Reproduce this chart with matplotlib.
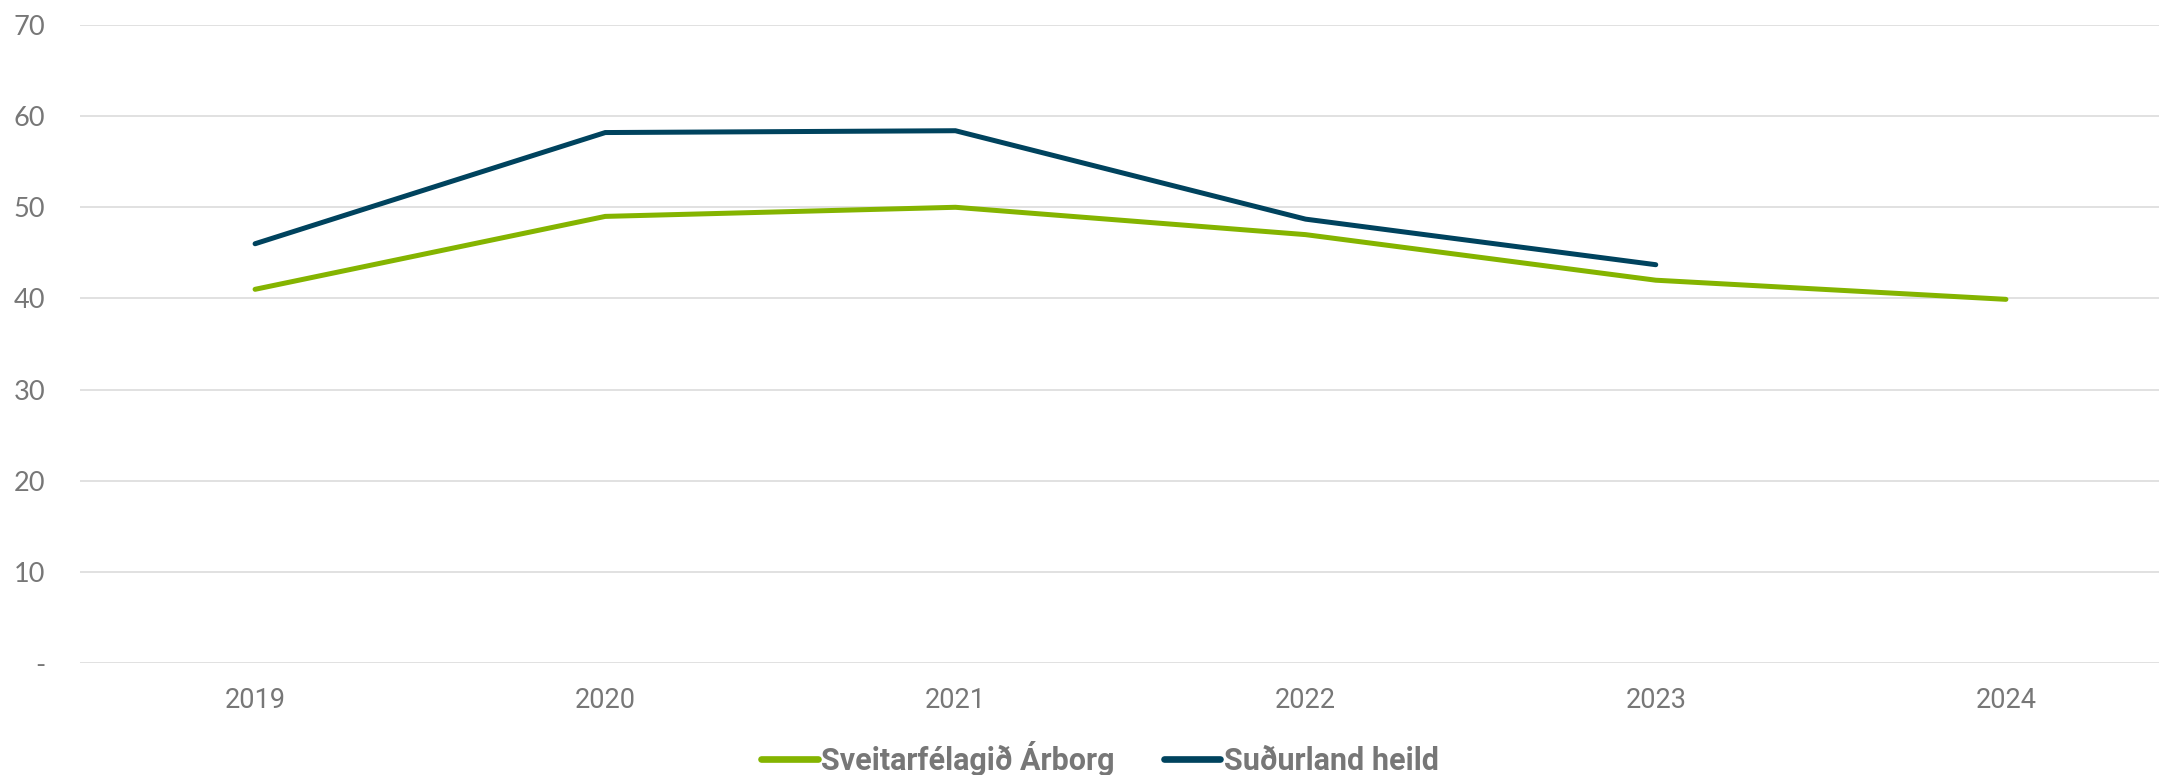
import numpy as np
import matplotlib
matplotlib.use("Agg")
import matplotlib.pyplot as plt

years = ["2019", "2020", "2021", "2022", "2023", "2024"]
arborg = [41.0, 49.0, 50.0, 47.0, 42.0, 39.9]
sudurland = [46.0, 58.2, 58.4, 48.7, 43.7, np.nan]
series_names = ["Sveitarfélagið Árborg", "Suðurland heild"]
y_ticks = [0, 10, 20, 30, 40, 50, 60, 70]
y_labels = ["-", "10", "20", "30", "40", "50", "60", "70"]

GREEN = "#84b400"
BLUE = "#00435e"
GREY = "#777777"

fig = plt.figure(figsize=(21.59, 7.75), dpi=100)
ax = fig.add_axes([80 / 2159, 1 - 663 / 775, 2101 / 2159, (663 - 25) / 775])

x = np.arange(len(years))
ax.plot(x, arborg, color=GREEN, lw=3.6, solid_capstyle="round", solid_joinstyle="miter",
        label=series_names[0], zorder=3)
ax.plot(x, sudurland, color=BLUE, lw=3.6, solid_capstyle="round", solid_joinstyle="miter",
        label=series_names[1], zorder=3)

ax.set_xlim(-0.5, len(years) - 0.5)
ax.set_ylim(0, 70)
ax.set_yticks(y_ticks)
ax.set_yticklabels(y_labels, fontfamily="Lato", fontsize=19.5, color=GREY)
ax.set_xticks(x)
ax.set_xticklabels(years, fontfamily="Roboto", fontsize=19.5, color=GREY)
ax.tick_params(axis="y", length=0, pad=25)
ax.tick_params(axis="x", length=0, pad=17)

ax.grid(axis="y", color="#d9d9d9", lw=1.1)
ax.set_axisbelow(True)
for s in ax.spines.values():
    s.set_visible(False)

leg = fig.legend(loc="center", bbox_to_anchor=(1100 / 2159, 1 - 758 / 775), ncol=2,
                 frameon=False, handlelength=1.85, handletextpad=0.12, columnspacing=1.6,
                 prop={"family": "Roboto", "weight": "bold", "size": 22})
for t in leg.get_texts():
    t.set_color(GREY)
for h in leg.get_lines():
    h.set_linewidth(4.8)
    h.set_solid_capstyle("round")

fig.savefig("out.png", dpi=100)
